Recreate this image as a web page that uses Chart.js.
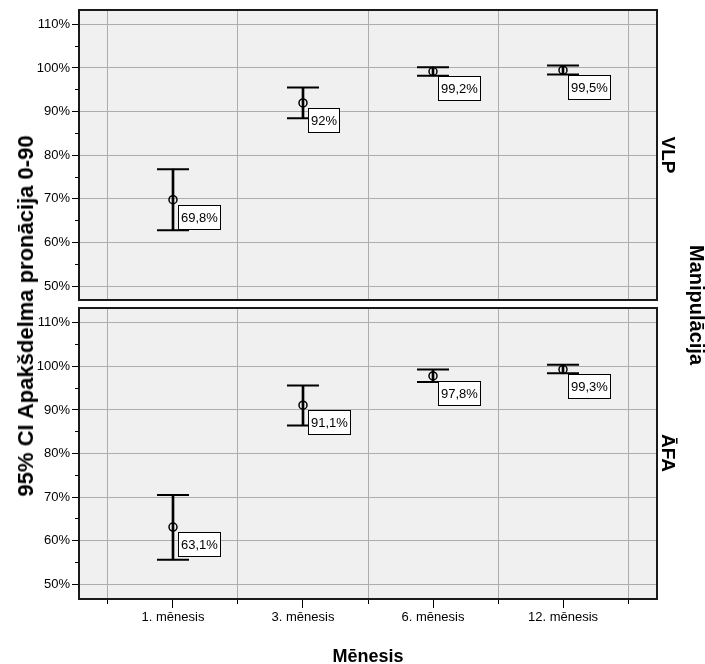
<!DOCTYPE html>
<html>
<head>
<meta charset="utf-8">
<script src="https://cdn.jsdelivr.net/npm/chart.js@4.4.1/dist/chart.umd.min.js"></script>
<style>
  html, body { margin: 0; padding: 0; background: #fff; }
  #wrap { position: relative; width: 705px; height: 664px; background: #fff; font-family: Arial, "Liberation Sans", sans-serif; color: #000; }
  #wrap canvas { position: absolute; left: 0; }
  .rot { position: absolute; white-space: nowrap; font-weight: bold; line-height: 1; }
</style>
</head>
<body>
<div id="wrap">
  <canvas id="topChart" width="705" height="304" style="top:0"></canvas>
  <canvas id="bottomChart" width="705" height="360" style="top:304px"></canvas>
  <div class="rot" style="left:26px;top:316px;font-size:22px;transform:translate(-50%,-50%) rotate(-90deg)">95% CI Apakšdelma pronācija 0-90</div>
  <div class="rot" style="left:668px;top:155px;font-size:19px;transform:translate(-50%,-50%) rotate(90deg)">VLP</div>
  <div class="rot" style="left:668px;top:453px;font-size:19px;transform:translate(-50%,-50%) rotate(90deg)">ĀFA</div>
  <div class="rot" style="left:697px;top:305px;font-size:20px;transform:translate(-50%,-50%) rotate(90deg)">Manipulācija</div>
  <div class="rot" style="left:368px;top:656px;font-size:18px;transform:translate(-50%,-50%)">Mēnesis</div>
</div>
<script>
const CATEGORIES = ['1. mēnesis', '3. mēnesis', '6. mēnesis', '12. mēnesis'];
const CAT_POS = [1, 2, 3, 4];

// VLP panel (top)
const VLP_MEAN = [69.8, 92, 99.2, 99.5];
const VLP_LOW = [62.8, 88.5, 98.2, 98.5];
const VLP_HIGH = [76.8, 95.5, 100.2, 100.6];
const VLP_LABELS = ['69,8%', '92%', '99,2%', '99,5%'];

// ĀFA panel (bottom)
const AFA_MEAN = [63.1, 91.1, 97.8, 99.3];
const AFA_LOW = [55.6, 86.4, 96.4, 98.4];
const AFA_HIGH = [70.5, 95.6, 99.3, 100.4];
const AFA_LABELS = ['63,1%', '91,1%', '97,8%', '99,3%'];

const Y_MAJOR = 10;
const Y_MINOR = 5;
const X_MIN = 0.277;
const X_MAX = 4.723;

const FONT = 'Arial, "Liberation Sans", sans-serif';
const GRID = '#adadad';
const PANEL_BG = '#f0f0f0';
const CLEAR = 'rgba(0,0,0,0)';

const panelFrame = {
  id: 'panelFrame',
  beforeDraw(chart) {
    const { ctx, chartArea: a } = chart;
    ctx.save();
    ctx.fillStyle = PANEL_BG;
    ctx.fillRect(a.left, a.top, a.right - a.left, a.bottom - a.top);
    ctx.restore();
  },
  afterDraw(chart) {
    const { ctx, chartArea: a } = chart;
    ctx.save();
    ctx.strokeStyle = '#1a1a1a';
    ctx.lineWidth = 2;
    ctx.strokeRect(Math.round(a.left), Math.round(a.top), Math.round(a.right - a.left), Math.round(a.bottom - a.top));
    ctx.restore();
  },
};

const meanLabels = {
  id: 'meanLabels',
  afterDatasetsDraw(chart, args, opts) {
    const meta = chart.getDatasetMeta(opts.datasetIndex);
    const ctx = chart.ctx;
    ctx.save();
    ctx.font = '13px ' + FONT;
    ctx.textBaseline = 'middle';
    meta.data.forEach((pt, i) => {
      const text = opts.labels[i];
      const w = Math.round(ctx.measureText(text).width) + 5;
      const h = 24;
      const x = Math.round(pt.x) + 5.5;
      const y = Math.round(pt.y) + 5.5;
      ctx.fillStyle = '#fff';
      ctx.fillRect(x, y, w, h);
      ctx.strokeStyle = '#000';
      ctx.lineWidth = 1;
      ctx.strokeRect(x, y, w, h);
      ctx.fillStyle = '#000';
      ctx.fillText(text, x + 2.5, y + h / 2 + 1);
    });
    ctx.restore();
  },
};

function buildDatasets(mean, low, high) {
  return [
    {
      type: 'bar',
      data: CAT_POS.map((x, i) => ({ x, y: [low[i], high[i]] })),
      backgroundColor: '#000',
      borderWidth: 0,
      barThickness: 2,
      order: 3,
    },
    {
      type: 'scatter',
      data: CAT_POS.flatMap((x, i) => [{ x, y: high[i] }, { x, y: low[i] }]),
      pointStyle: 'line',
      pointRadius: 16,
      borderColor: '#000',
      borderWidth: 2,
      order: 2,
    },
    {
      type: 'scatter',
      data: CAT_POS.map((x, i) => ({ x, y: mean[i] })),
      pointStyle: 'circle',
      pointRadius: 4,
      backgroundColor: CLEAR,
      borderColor: '#000',
      borderWidth: 1.5,
      order: 1,
    },
  ];
}

function makePanel(canvasId, mean, low, high, labels, opts) {
  return new Chart(document.getElementById(canvasId), {
    type: 'scatter',
    data: { datasets: buildDatasets(mean, low, high) },
    options: {
      responsive: false,
      animation: false,
      events: [],
      layout: { autoPadding: false, padding: { top: opts.padTop, bottom: opts.padBottom, left: 0, right: 48 } },
      plugins: {
        legend: { display: false },
        tooltip: { enabled: false },
        meanLabels: { datasetIndex: 2, labels },
      },
      scales: {
        // category centres: labels and long ticks
        x: {
          type: 'linear',
          min: X_MIN,
          max: X_MAX,
          weight: 1,
          offset: false,
          border: { display: false },
          grid: { offset: false, drawOnChartArea: false, drawTicks: opts.showX, tickLength: 9, tickColor: '#000' },
          ticks: {
            display: opts.showX,
            stepSize: 1,
            includeBounds: false,
            autoSkip: false,
            maxRotation: 0,
            padding: 2,
            color: '#000',
            font: { family: FONT, size: 13 },
            callback: (v) => CATEGORIES[v - 1] || '',
          },
          afterFit: (s) => { s.height = opts.xHeight; s.paddingLeft = 0; s.paddingRight = 0; },
        },
        // half steps: grid lines between categories and short ticks
        xMinor: {
          type: 'linear',
          axis: 'x',
          position: 'bottom',
          min: X_MIN,
          max: X_MAX,
          weight: 0,
          offset: false,
          border: { display: false },
          grid: {
            offset: false,
            color: (c) => (c.tick && Number.isInteger(c.tick.value) ? CLEAR : GRID),
            drawTicks: opts.showX,
            tickLength: 5,
            tickColor: '#000',
          },
          ticks: { display: false, stepSize: 0.5, includeBounds: false, autoSkip: false },
          afterFit: (s) => { s.height = 0; s.paddingLeft = 0; s.paddingRight = 0; },
        },
        y: {
          min: opts.yMin,
          max: opts.yMax,
          weight: 1,
          border: { display: false },
          grid: { color: GRID, tickColor: '#000', tickLength: 7 },
          ticks: {
            stepSize: Y_MAJOR,
            includeBounds: false,
            autoSkip: false,
            padding: 2,
            color: '#000',
            font: { family: FONT, size: 13 },
            callback: (v) => v + '%',
          },
          afterFit: (s) => { s.width = 79; s.paddingTop = 0; s.paddingBottom = 0; },
        },
        yMinor: {
          type: 'linear',
          axis: 'y',
          position: 'left',
          min: opts.yMin,
          max: opts.yMax,
          weight: 0,
          border: { display: false },
          grid: { drawOnChartArea: false, tickColor: '#000', tickLength: 4 },
          ticks: { display: false, stepSize: Y_MINOR, includeBounds: false, autoSkip: false },
          afterFit: (s) => { s.width = 0; s.paddingTop = 0; s.paddingBottom = 0; },
        },
      },
    },
    plugins: [panelFrame, meanLabels],
  });
}

makePanel('topChart', VLP_MEAN, VLP_LOW, VLP_HIGH, VLP_LABELS, {
  padTop: 10, padBottom: 4, xHeight: 0, showX: false, yMin: 46.8, yMax: 113.3,
});
makePanel('bottomChart', AFA_MEAN, AFA_LOW, AFA_HIGH, AFA_LABELS, {
  padTop: 4, padBottom: 0, xHeight: 65, showX: true, yMin: 46.6, yMax: 113.4,
});
</script>
</body>
</html>
